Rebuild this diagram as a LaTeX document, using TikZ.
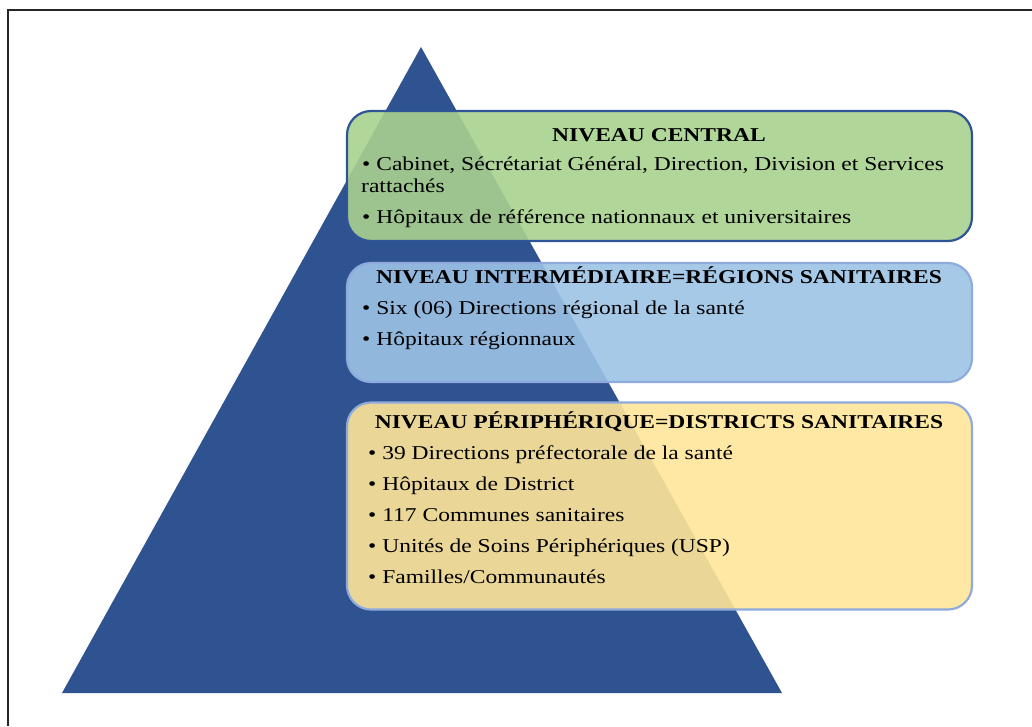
\documentclass[tikz,border=0pt]{standalone}
\usepackage{fontspec}
\setmainfont{Liberation Serif}[FakeStretch=1.2]
\definecolor{tri}{HTML}{2F5290}
\definecolor{gfill}{HTML}{A9D18E}
\definecolor{bfill}{HTML}{9DC3E6}
\definecolor{yfill}{HTML}{FFE699}
\definecolor{dborder}{HTML}{2F5597}
\definecolor{lborder}{HTML}{8FAADC}
\tikzset{
  box/.style={rectangle, rounded corners=24pt, line width=2.2pt, fill opacity=0.9,
    minimum width=625pt, inner sep=0pt},
  ttl/.style={anchor=base, inner sep=0pt, font=\fontsize{19.6}{22}\selectfont\bfseries},
  txt/.style={anchor=base west, inner sep=0pt, font=\fontsize{19.6}{22}\selectfont},
}
\begin{document}
\begin{tikzpicture}[x=1pt,y=-1pt]
\useasboundingbox (0,0) rectangle (1032,726);
\draw[line width=1.3pt, black!85] (8,726) -- (8,10) -- (1032,10);
\fill[tri] (421,47) -- (782,693) -- (62,693) -- cycle;
\node[box, fill=gfill, draw=dborder, minimum height=130pt] (central) at (659.5,176) {};
\node[box, fill=bfill, draw=lborder, minimum height=119pt] (inter) at (659.5,322.5) {};
\node[box, fill=yfill, draw=lborder, minimum height=207pt] (peri) at (659.5,506) {};
% central
\node[ttl] (ct) at (659,141) {NIVEAU CENTRAL};
\node[txt] (c1) at (362,170) {• Cabinet, Sécrétariat Général, Direction, Division et Services};
\node[txt] (c1b) at (361,192) {rattachés};
\node[txt] (c2) at (362,223) {• Hôpitaux de référence nationnaux et universitaires};
% intermediate
\node[ttl] (it) at (659,283) {NIVEAU INTERMÉDIAIRE=RÉGIONS SANITAIRES};
\node[txt] (i1) at (362,314) {• Six (06) Directions régional de la santé};
\node[txt] (i2) at (362,345) {• Hôpitaux régionnaux};
% peripheral
\node[ttl] (pt) at (659,428) {NIVEAU PÉRIPHÉRIQUE=DISTRICTS SANITAIRES};
\node[txt] (p1) at (368,459) {• 39 Directions préfectorale de la santé};
\node[txt] (p2) at (368,490) {• Hôpitaux de District};
\node[txt] (p3) at (368,521) {• 117 Communes sanitaires};
\node[txt] (p4) at (368,552) {• Unités de Soins Périphériques (USP)};
\node[txt] (p5) at (368,583) {• Familles/Communautés};
\end{tikzpicture}
\end{document}
